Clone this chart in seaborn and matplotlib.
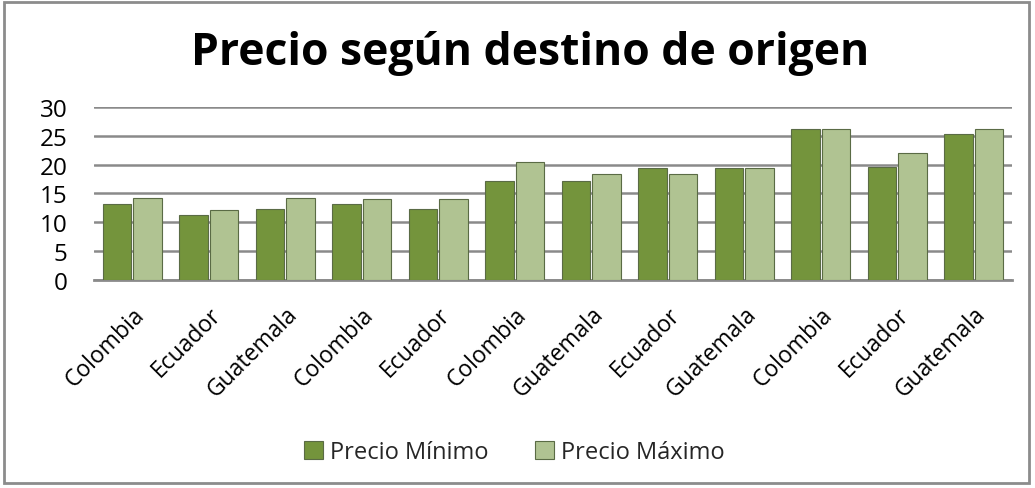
import matplotlib
matplotlib.use("Agg")
import matplotlib.pyplot as plt
import pandas as pd
import seaborn as sns
from matplotlib.patches import Rectangle

# Values
paises = ["Colombia", "Ecuador", "Guatemala", "Colombia", "Ecuador", "Colombia",
          "Guatemala", "Ecuador", "Guatemala", "Colombia", "Ecuador", "Guatemala"]
precio_min = [13.1, 11.3, 12.3, 13.1, 12.3, 17.1, 17.1, 19.4, 19.4, 26.2, 19.5, 25.3]
precio_max = [14.2, 12.1, 14.2, 14.0, 14.0, 20.4, 18.3, 18.3, 19.4, 26.2, 22.0, 26.2]
series = ["Precio Mínimo", "Precio Máximo"]
y_ticks = [0, 5, 10, 15, 20, 25, 30]

df = pd.DataFrame({
    "slot": list(range(len(paises))) * 2,
    "serie": [series[0]] * len(paises) + [series[1]] * len(paises),
    "precio": precio_min + precio_max,
})

sns.set_theme(style="white")
plt.rcParams["font.family"] = ["Open Sans", "DejaVu Sans"]

fig = plt.figure(figsize=(10.35, 4.89), dpi=100)
ax = fig.add_axes([0.0908, 0.4254, 0.887, 0.354])

colores = {series[0]: "#78a32d", series[1]: "#b2cb8a"}
sns.barplot(data=df, x="slot", y="precio", hue="serie", palette=colores,
            width=0.8, gap=0.08, edgecolor="#5a6b45", linewidth=0.8,
            ax=ax, legend=True, zorder=3)

ax.set_ylim(0, 30)
ax.set_xlim(-0.5, len(paises) - 0.5)
ax.set_yticks(y_ticks)
ax.yaxis.grid(True, color="#8a8a8a", linewidth=1.8, zorder=0)
ax.set_axisbelow(True)
for s in ["top", "right", "left"]:
    ax.spines[s].set_visible(False)
ax.spines["bottom"].set_color("#8a8a8a")
ax.spines["bottom"].set_linewidth(2)
ax.tick_params(axis="y", length=0, pad=19, labelsize=17.5, labelcolor="black")
ax.tick_params(axis="x", length=0, pad=16, labelsize=16.5, labelcolor="black")
ax.set_xticks(range(len(paises)))
ax.set_xticklabels(paises, rotation=45, ha="right", rotation_mode="anchor")
ax.set_xlabel("")
ax.set_ylabel("")

handles, labels = ax.get_legend_handles_labels()
ax.legend_.remove()
fig.legend(handles, labels, loc="center", bbox_to_anchor=(0.497, 0.073), ncol=2,
           frameon=False, fontsize=17, handlelength=0.8, handleheight=0.8,
           handletextpad=0.3, columnspacing=2.0)

fig.text(0.512, 0.89, "Precio según destino de origen", ha="center", va="center",
         fontsize=32, fontweight="bold", color="black")

# chart frame
fig.patches.append(Rectangle((0.004, 0.01), 0.99, 0.983, transform=fig.transFigure,
                             fill=False, edgecolor="#8c8c8c", linewidth=2))

fig.savefig("out.png", dpi=100)
